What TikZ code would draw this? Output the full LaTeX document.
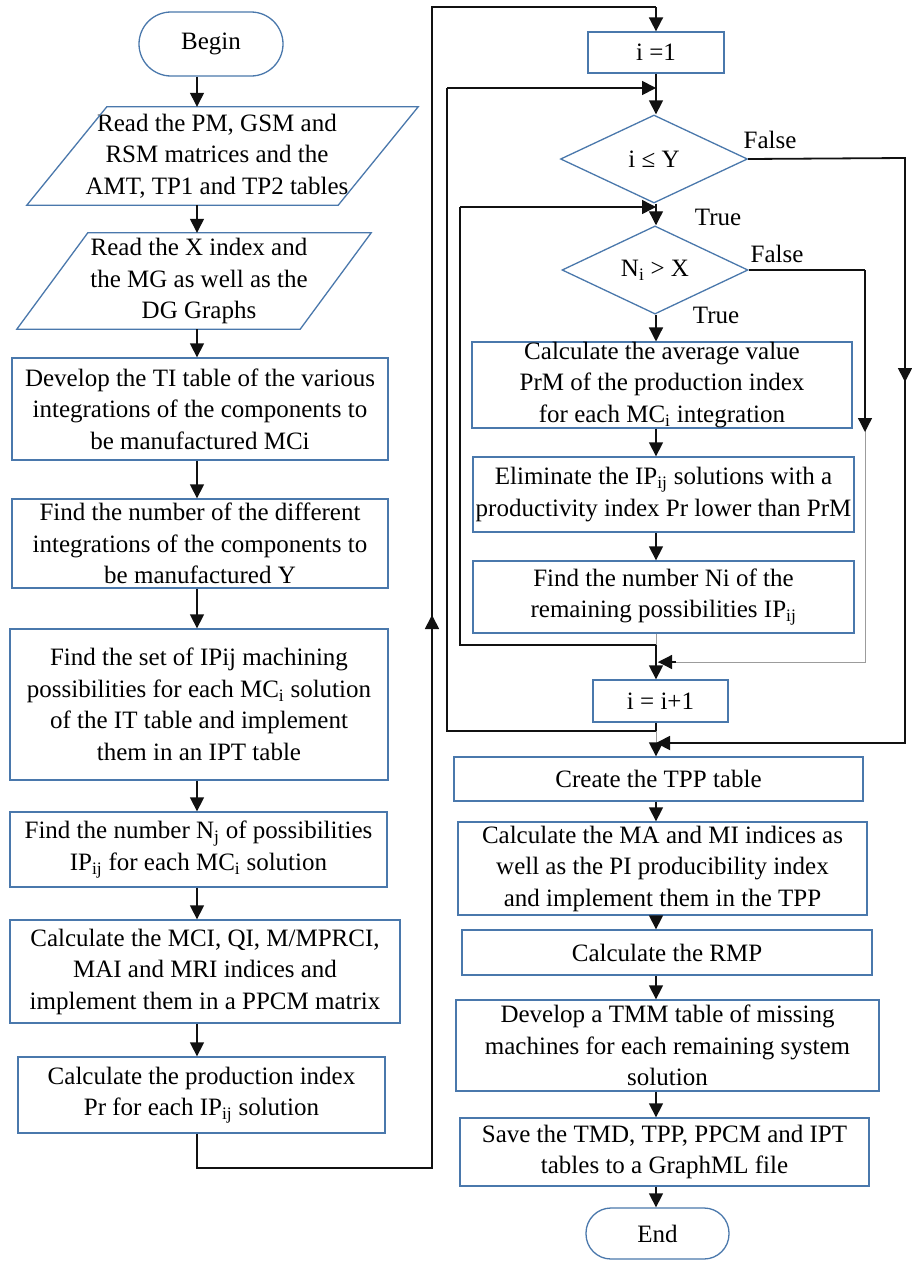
\documentclass[tikz,border=0pt]{standalone}
\usepackage{fontspec}
\setmainfont{Liberation Serif}
\usetikzlibrary{arrows.meta,shapes.geometric}
\definecolor{kbox}{HTML}{4A78AC}
\definecolor{kline}{HTML}{111111}
\definecolor{kfaint}{HTML}{9C9C9C}

\tikzset{
  procbox/.style={draw=kbox,line width=1.3pt,align=center,inner sep=0pt},
  decbox/.style={procbox,shape=diamond},
  iotext/.style={align=center,inner sep=0pt},
  flow/.style={kline,line width=1.3pt,-{Triangle[length=14pt,width=14pt]}},
  loopline/.style={kline,line width=1.8pt},
  faintline/.style={kfaint,line width=1pt},
  lbl/.style={inner sep=0pt},
}

\begin{document}
\begin{tikzpicture}[x=1pt,y=-1pt,font=\fontsize{25}{31.5}\selectfont]
  \fill[white] (0,0) rectangle (912,1261);
  \useasboundingbox (0,0) rectangle (912,1261);

  % Spines of the two columns
  \coordinate (lspine) at (197,0);
  \coordinate (rspine) at (656,0);

  % Left column
  \node[procbox,rounded corners=32pt,minimum width=144pt,minimum height=64pt] (begin) at (211,44) {Begin};
  \node[iotext,minimum width=311pt,minimum height=98pt] (read1) at (217,156)
    {Read the PM, GSM and\\RSM matrices and the\\AMT, TP1 and TP2 tables};
  \node[iotext,minimum width=283pt,minimum height=96pt] (read2) at (199,281)
    {Read the X index and\\the MG as well as the\\DG Graphs};
  \node[procbox,minimum width=376pt,minimum height=102pt] (ti) at (200,409)
    {Develop the TI table of the various\\integrations of the components to\\be manufactured MCi};
  \node[procbox,minimum width=376pt,minimum height=89pt] (ny) at (200,543.5)
    {Find the number of the different\\integrations of the components to\\be manufactured Y};
  \node[procbox,minimum width=378pt,minimum height=151pt] (ipset) at (199,704.5)
    {Find the set of IPij machining\\possibilities for each MC\textsubscript{i} solution\\of the IT table and implement\\them in an IPT table};
  \node[procbox,minimum width=377pt,minimum height=75pt] (nj) at (198.5,849.5)
    {Find the number N\textsubscript{j} of possibilities\\IP\textsubscript{ij} for each MC\textsubscript{i} solution};
  \node[procbox,minimum width=390pt,minimum height=103pt] (mci) at (205,971.5)
    {Calculate the MCI, QI, M/MPRCI,\\MAI and MRI indices and\\implement them in a PPCM matrix};
  \node[procbox,minimum width=367pt,minimum height=76pt] (pr) at (201.5,1095)
    {Calculate the production index\\Pr for each IP\textsubscript{ij} solution};

  % Parallelogram outlines of the two input nodes
  \draw[kbox,line width=1.3pt] ([xshift=45.5pt]read1.north west) -- ([xshift=45.5pt]read1.north east)
    -- ([xshift=-34.5pt]read1.south east) -- ([xshift=-34.5pt]read1.south west) -- cycle;
  \draw[kbox,line width=1.3pt] ([xshift=30.5pt]read2.north west) -- ([xshift=30.5pt]read2.north east)
    -- ([xshift=-40.5pt]read2.south east) -- ([xshift=-40.5pt]read2.south west) -- cycle;

  % Right column
  \node[procbox,minimum width=136pt,minimum height=41pt] (i1) at (656,52.5) {i =1};
  \node[decbox,minimum width=187pt,minimum height=88pt] (d1) at (654,159) {i ≤ Y};
  \node[decbox,minimum width=186pt,minimum height=86pt] (d2) at (655,270) {N\textsubscript{i} > X};
  \node[procbox,minimum width=380pt,minimum height=84pt] (avg) at (662,385)
    {Calculate the average value\\PrM of the production index\\for each MC\textsubscript{i} integration};
  \node[procbox,minimum width=381pt,minimum height=75pt] (elim) at (663.5,494.5)
    {Eliminate the IP\textsubscript{ij} solutions with a\\productivity index Pr lower than PrM};
  \node[procbox,minimum width=381pt,minimum height=72pt] (ni) at (663.5,597)
    {Find the number Ni of the\\remaining possibilities IP\textsubscript{ij}};
  \node[procbox,minimum width=135pt,minimum height=42pt] (inc) at (660.5,701) {i = i+1};
  \node[procbox,minimum width=409pt,minimum height=44pt] (tpp) at (658.5,779) {Create the TPP table};
  \node[procbox,minimum width=409pt,minimum height=93pt] (mami) at (662.5,868.5)
    {Calculate the MA and MI indices as\\well as the PI producibility index\\and implement them in the TPP};
  \node[procbox,minimum width=410pt,minimum height=45pt] (rmp) at (667,952.5) {Calculate the RMP};
  \node[procbox,minimum width=423pt,minimum height=91pt] (tmm) at (667.5,1045.5)
    {Develop a TMM table of missing\\machines for each remaining system\\solution};
  \node[procbox,minimum width=409pt,minimum height=68pt] (save) at (664.5,1152)
    {Save the TMD, TPP, PPCM and IPT\\tables to a GraphML file};
  \node[procbox,rounded corners=25pt,minimum width=143pt,minimum height=51pt] (end) at (657.5,1233.5) {End};

  % Branch labels
  \node[lbl] (f1) at (770,140) {False};
  \node[lbl] (t1) at (718,217) {True};
  \node[lbl] (f2) at (777,254) {False};
  \node[lbl] (t2) at (716,315) {True};

  % Straight flow, left column
  \draw[flow] (begin.south -| lspine) -- (read1.north -| lspine);
  \draw[flow] (read1.south -| lspine) -- (read2.north -| lspine);
  \draw[flow] (read2.south -| lspine) -- (ti.north -| lspine);
  \draw[flow] (ti.south -| lspine) -- (ny.north -| lspine);
  \draw[flow] (ny.south -| lspine) -- (ipset.north -| lspine);
  \draw[flow] (ipset.south -| lspine) -- (nj.north -| lspine);
  \draw[flow] (nj.south -| lspine) -- (mci.north -| lspine);
  \draw[flow] (mci.south -| lspine) -- (pr.north -| lspine);

  % From the bottom of the left column over to i = 1
  \coordinate (ob1) at (197,1168);
  \coordinate (ob2) at (432,1168);
  \coordinate (obm) at (432,615);
  \coordinate (ob3) at (432,7);
  \coordinate (ob4) at (656,7);
  \draw[loopline] (pr.south -| lspine) -- (ob1) -- (ob2) -- (ob3) -- (ob4);
  \draw[flow,line width=1.8pt] (ob2) -- (obm);
  \draw[flow,line width=1.8pt] (ob4) -- (i1.north -| rspine);

  % Straight flow, right column
  \draw[flow] (i1.south -| rspine) -- (d1.north -| rspine);
  \draw[flow] (d1.south -| rspine) -- (d2.north -| rspine);
  \draw[flow] (d2.south -| rspine) -- (avg.north -| rspine);
  \draw[flow] (avg.south -| rspine) -- (elim.north -| rspine);
  \draw[flow] (elim.south -| rspine) -- (ni.north -| rspine);

  % Inner loop: back above the second test
  \coordinate (j1) at (656,645);
  \coordinate (il1) at (460,645);
  \coordinate (il2) at (460,207);
  \coordinate (il3) at (656,207);
  \draw[faintline] (ni.south -| rspine) -- (j1);
  \draw[loopline,line width=1.5pt] (j1) -- (il1) -- (il2);
  \draw[flow,line width=1.5pt] (il2) -- (il3);
  \draw[flow] (j1) -- (inc.north -| rspine);

  % False of the second test
  \coordinate (fa1) at (865,270);
  \coordinate (fam) at (865,432);
  \coordinate (fa2) at (865,662);
  \coordinate (j2) at (658,662);
  \draw[kline,line width=1.2pt] (d2.east) -- (fa1);
  \draw[faintline] (fa1) -- (fa2) -- (j2);
  \draw[flow] (fa1) -- (fam);
  \draw[flow] ([xshift=18pt]j2) -- (j2);

  % Outer loop: back above the first test
  \coordinate (j4) at (656,731);
  \coordinate (ol1) at (447,731);
  \coordinate (ol2) at (447,88);
  \coordinate (ol3) at (656,88);
  \draw[loopline] (inc.south -| rspine) -- (j4) -- (ol1) -- (ol2);
  \draw[flow,line width=1.8pt] (ol2) -- (ol3);

  % False of the first test
  \coordinate (fb1) at (905,158);
  \coordinate (fbm) at (905,382);
  \coordinate (fb2) at (905,743);
  \coordinate (j3) at (656,743);
  \draw[loopline] (d1.east) -- (fb1) -- (fb2) -- ([xshift=14pt]j3);
  \draw[flow,line width=1.8pt] (fb1) -- (fbm);
  \draw[flow,line width=1.8pt] ([xshift=18pt]j3) -- (j3);
  \draw[faintline] (j4) -- (j3);

  % Straight flow, end of the right column
  \draw[flow] (j3) -- (tpp.north -| rspine);
  \draw[flow] (tpp.south -| rspine) -- (mami.north -| rspine);
  \draw[flow] (mami.south -| rspine) -- (rmp.north -| rspine);
  \draw[flow] (rmp.south -| rspine) -- (tmm.north -| rspine);
  \draw[flow] (tmm.south -| rspine) -- (save.north -| rspine);
  \draw[flow] (save.south -| rspine) -- (end.north -| rspine);

\end{tikzpicture}
\end{document}
